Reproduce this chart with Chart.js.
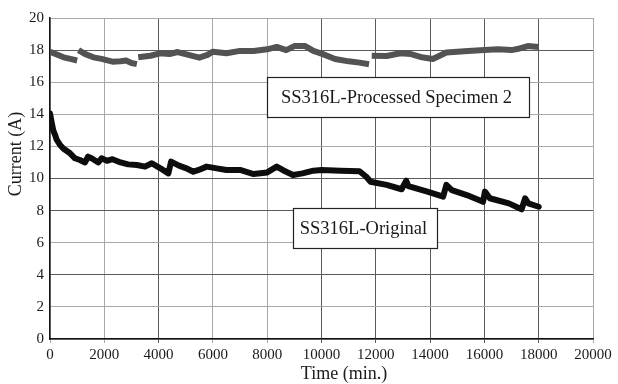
<!DOCTYPE html>
<html lang="en">

<head>
    <meta charset="UTF-8">
    <title>Current vs time</title>
    <style>
        body { margin: 0; background: #fff; }
    </style>
</head>

<body>
    <canvas id="currentCanvas" width="618" height="384"></canvas>

    <script src="https://cdn.jsdelivr.net/npm/chart.js@4/dist/chart.umd.min.js"></script>
    <script>
        // SS316L-Processed Specimen 2 (null = break between runs)
        const procTime = [0, 250, 500, 750, 1000, 1020,
            1050, 1300, 1600, 1900, 2300, 2600, 2800, 3000, 3200, 3220,
            3250, 3700, 4050, 4400, 4700, 5100, 5500, 5800, 6000, 6500, 7000, 7500, 8000, 8350, 8700, 9000, 9400, 9700, 10050, 10500, 11000, 11400, 11750, 11800,
            11850, 12400, 12900, 13300, 13700, 14100, 14600, 15000, 15400, 16000, 16500, 17000, 17300, 17600, 18000];
        const procCurrent = [17.9, 17.72, 17.55, 17.45, 17.35, null,
            18.0, 17.75, 17.55, 17.45, 17.28, 17.3, 17.35, 17.2, 17.13, null,
            17.55, 17.65, 17.8, 17.75, 17.88, 17.7, 17.53, 17.7, 17.9, 17.8, 17.95, 17.95, 18.05, 18.2, 18.0, 18.25, 18.25, 17.95, 17.75, 17.45, 17.3, 17.22, 17.12, null,
            17.65, 17.63, 17.8, 17.75, 17.55, 17.45, 17.85, 17.9, 17.95, 18.0, 18.05, 18.0, 18.1, 18.25, 18.2];

        // SS316L-Original
        const origTime = [0, 60, 120, 190, 250, 370, 500, 740, 920, 1100,
            1290, 1400, 1530, 1780, 1900, 2100, 2300, 2600, 2880, 3200,
            3500, 3750, 4050, 4360, 4460, 4750, 5000, 5280, 5500, 5770,
            6140, 6500, 7000, 7500, 8000, 8350, 8600, 8950, 9300, 9700,
            10000, 10700, 11400, 11650, 11800, 12400, 12950, 13120, 13200, 13900,
            14480, 14600, 14800, 15350, 15950, 16020, 16200, 16900, 17370, 17500,
            17620, 18000];
        const origCurrent = [14.05, 13.5, 13.0, 12.7, 12.4, 12.09, 11.85, 11.57, 11.26, 11.15,
            11.0, 11.36, 11.26, 11.0, 11.26, 11.1, 11.2, 11.0, 10.88, 10.84,
            10.74, 10.95, 10.65, 10.32, 11.05, 10.8, 10.65, 10.42, 10.55, 10.74,
            10.63, 10.53, 10.53, 10.28, 10.38, 10.74, 10.5, 10.22, 10.32, 10.49,
            10.53, 10.49, 10.45, 10.11, 9.8, 9.6, 9.33, 9.86, 9.53, 9.18,
            8.87, 9.6, 9.28, 8.97, 8.55, 9.18, 8.77, 8.45, 8.08, 8.77,
            8.45, 8.24];

        const seriesNames = ['SS316L-Processed Specimen 2', 'SS316L-Original'];
        const xTitle = 'Time (min.)';
        const yTitle = 'Current (A)';

        // grid lines that came out darker in the original scan
        const darkX = [4000, 10000, 12000, 14000, 16000, 18000];
        const darkY = [4, 8, 10, 18];

        const serif = "'Liberation Serif', 'DejaVu Serif', serif";
        const ink = '#1a1a1a';

        function toPoints(xs, ys) {
            return xs.map((x, i) => ({ x: x, y: ys[i] }));
        }

        // text boxes and off-centre axis titles
        const labelsPlugin = {
            id: 'labels',
            afterDatasetsDraw(chart) {
                const c = chart.ctx;
                const xs = chart.scales.x, ys = chart.scales.y;
                const boxes = [
                    { text: seriesNames[0], x0: 8000, x1: 17640, y0: 13.83, y1: 16.32 },
                    { text: seriesNames[1], x0: 8950, x1: 14250, y0: 5.67, y1: 8.16 }
                ];
                c.save();
                boxes.forEach(b => {
                    const l = Math.round(xs.getPixelForValue(b.x0)) + 0.5;
                    const r = Math.round(xs.getPixelForValue(b.x1)) + 0.5;
                    const t = Math.round(ys.getPixelForValue(b.y1)) + 0.5;
                    const bt = Math.round(ys.getPixelForValue(b.y0)) + 0.5;
                    c.fillStyle = '#fff';
                    c.fillRect(l, t, r - l, bt - t);
                    c.strokeStyle = '#222';
                    c.lineWidth = 1.2;
                    c.strokeRect(l, t, r - l, bt - t);
                    c.fillStyle = ink;
                    c.font = '18.5px ' + serif;
                    c.textAlign = 'center';
                    c.textBaseline = 'middle';
                    c.fillText(b.text, (l + r) / 2 - 2, (t + bt) / 2 + 1);
                });
                c.font = '18px ' + serif;
                c.fillStyle = ink;
                c.textAlign = 'center';
                c.textBaseline = 'middle';
                c.fillText(xTitle, 344, 374);
                c.translate(16, 154);
                c.rotate(-Math.PI / 2);
                c.fillText(yTitle, 0, 0);
                c.restore();
            }
        };

        const ctx = document.getElementById('currentCanvas').getContext('2d');
        const currentChart = new Chart(ctx, {
            type: 'scatter',
            data: {
                datasets: [{
                    label: seriesNames[0],
                    data: toPoints(procTime, procCurrent),
                    showLine: true,
                    spanGaps: false,
                    borderColor: '#535353',
                    borderWidth: 6,
                    borderJoinStyle: 'round',
                    pointRadius: 0
                }, {
                    label: seriesNames[1],
                    data: toPoints(origTime, origCurrent),
                    showLine: true,
                    borderColor: '#0d0d0d',
                    borderWidth: 6,
                    borderJoinStyle: 'round',
                    borderCapStyle: 'round',
                    pointRadius: 0
                }]
            },
            options: {
                responsive: false,
                animation: false,
                layout: { padding: { left: 0, right: 25, top: 18, bottom: 0 } },
                plugins: {
                    legend: { display: false },
                    tooltip: { enabled: false }
                },
                scales: {
                    x: {
                        type: 'linear',
                        min: 0,
                        max: 20000,
                        afterFit: s => { s.height = 45; },
                        ticks: {
                            stepSize: 2000,
                            maxRotation: 0,
                            autoSkip: false,
                            padding: 3,
                            color: ink,
                            font: { family: serif, size: 15 },
                            callback: v => String(v)
                        },
                        grid: {
                            color: c => darkX.includes(c.tick && c.tick.value) ? '#5a5a5a' : '#a8a8a8',
                            lineWidth: 1,
                            tickLength: 4
                        },
                        border: { color: '#111', width: 1.5 }
                    },
                    y: {
                        min: 0,
                        max: 20,
                        afterFit: s => { s.width = 50; },
                        ticks: {
                            stepSize: 2,
                            padding: 6,
                            color: ink,
                            font: { family: serif, size: 15 },
                            callback: v => String(v)
                        },
                        grid: {
                            color: c => darkY.includes(c.tick && c.tick.value) ? '#5a5a5a' : '#a8a8a8',
                            lineWidth: 1,
                            drawTicks: false
                        },
                        border: { color: '#111', width: 1.5 }
                    }
                }
            },
            plugins: [labelsPlugin]
        });
    </script>
</body>

</html>
